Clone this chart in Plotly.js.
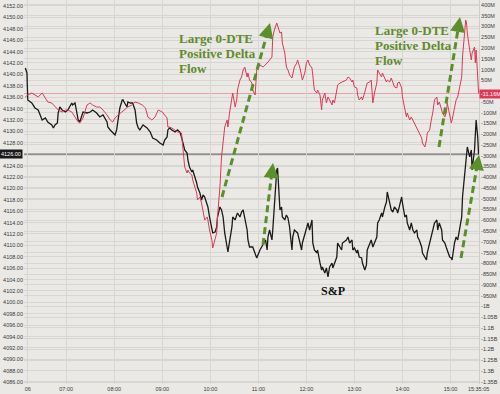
<!DOCTYPE html>
<html><head><meta charset="utf-8">
<script src="https://cdn.plot.ly/plotly-3.0.1.min.js"></script>
<style>html,body{margin:0;padding:0;background:#ebe9e5}#chart{width:500px;height:394px}</style>
</head><body><div id="chart"></div>
<script>
// time = minutes since midnight
const SP_TIME = [369,371,372,377,381,385,390,394,397,402,404,406,409,410,412,415,419,422,427,428,431,433,435,437,441,446,450,453,458,462,466,471,472,475,478,481,483,485,487,490,491,493,496,497,500,503,506,508,510,512,
516,521,525,528,533,537,541,543,546,547,549,552,556,559,562,564,566,568,571,572,574,577,578,581,583,584,587,589,591,593,596,597,599,602,603,606,608,609,612,614,616,618,621,622,624,627,628,631,633,634,637,639,641,643,646,647,649,653,658,662,666,669,671,672,674,677,678,680,683,684,685,687,689,690,693,695,697,699,702,703,705,709,712,714,715,720,722,724,727,728,730,733,734,737,739,740,743,745,747,749,752,753,755,758,759,762,764,765,770,772,774,777,778,780,783,784,786,789,790,793,795,796,799,801,803,805,808,809,811,814,815,818,820,821,824,826,828,830,833,834,836,839,840,843,845,846,849,851,853,855,858,859,861,864,865,868,870,871,874,876,878,880,883,884,886,889,890,893,895,896,899,901,902,905,907,909,911,914,915,917,920,921,924,926,927,930,932,934,935.08];
const SP_VALUE = [4141.12,4140.25,4135.51,4134.98,4134.11,4133.75,4132.00,4132.35,4131.65,4131.12,4130.60,4131.12,4131.47,4133.23,4134.28,4133.75,4133.40,4133.75,4134.98,4134.63,4134.98,4133.75,4132.00,4131.65,4133.40,4133.23,4133.40,4133.75,4133.23,4132.53,4132.88,4131.65,4130.77,4130.25,4129.89,4129.37,4130.25,4132.00,4134.11,4135.51,4135.51,4134.98,4134.28,4135.16,4134.98,4134.98,4133.75,4131.47,4130.60,4130.25,
4131.12,4130.60,4129.89,4128.84,4128.49,4127.96,4127.61,4128.49,4129.02,4130.25,4130.60,4130.25,4129.89,4130.25,4129.89,4129.02,4127.96,4126.74,4126.21,4124.98,4123.75,4122.88,4123.23,4122.00,4120.95,4120.25,4119.19,4117.96,4118.84,4118.49,4117.44,4116.74,4114.98,4113.23,4112.18,4112.35,4113.23,4114.98,4116.74,4116.21,4114.98,4112.18,4109.72,4108.84,4110.60,4113.23,4114.98,4114.46,4115.33,4115.68,4114.98,4115.86,4116.21,4114.98,4112.70,4110.95,4109.72,4109.72,4107.79,4109.19,4110.07,4110.95,4109.19,4111.47,4112.70,4110.95,4112.70,4117.44,4123.23,4123.58,4120.95,4116.21,4116.74,4114.98,4114.46,4115.33,4114.81,4113.23,4109.19,4111.47,4112.70,4112.18,4110.42,4109.19,4110.42,4113.23,4113.93,4112.70,4114.46,4110.42,4109.19,4108.67,4109.19,4106.91,4105.68,4106.21,4105.16,4106.04,4104.46,4106.21,4106.91,4106.04,4106.91,4107.96,4110.42,4109.72,4109.19,4110.42,4110.95,4111.47,4110.42,4110.95,4109.19,4109.54,4108.67,4109.19,4107.96,4107.79,4106.91,4105.68,4106.56,4109.19,4110.42,4110.95,4109.72,4110.42,4111.47,4113.93,4114.46,4115.68,4114.98,4116.74,4117.61,4119.37,4117.44,4116.21,4115.86,4116.74,4116.21,4115.68,4116.74,4118.49,4117.44,4114.98,4115.33,4113.93,4112.70,4113.93,4112.70,4112.18,4112.70,4111.47,4110.95,4109.72,4108.67,4107.79,4107.44,4108.67,4110.42,4111.47,4112.70,4113.93,4114.46,4112.70,4113.93,4112.70,4110.95,4110.42,4109.54,4109.19,4107.96,4107.79,4107.44,4110.42,4111.47,4110.95,4112.70,4114.98,4118.49,4121.47,4126.74,4127.26,4125.51,4126.74,4123.23,4126.74,4132.00,4129.02,4126.00];

const FLOW_TIME = [369,372,377,381,385,390,394,397,402,406,410,415,419,422,427,431,435,437,441,446,450,453,458,462,466,471,475,478,481,485,490,493,497,502,506,510,515,519,522,527,531,535,540,543,546,547,549,552,556,559,564,566,568,571,572,574,577,578,581,583,584,587,589,591,593,596,597,599,602,603,606,608,609,612,614,616,618,621,622,624,627,628,631,633,634,637,639,641,643,646,647,649,652,653,656,658,662,666,671,674,677,678,680,683,684,687,689,690,693,695,697,699,702,703,705,708,709,712,714,715,718,720,722,724,727,728,730,733,734,737,739,740,743,745,747,749,752,753,755,758,759,762,765,770,772,774,777,778,780,783,784,786,789,790,793,795,796,799,801,803,805,808,809,811,814,815,818,820,821,824,826,828,830,833,834,836,839,840,843,845,846,849,851,853,855,858,859,861,864,865,868,870,871,874,876,878,880,883,884,886,889,890,893,895,896,899,901,902,905,907,909,911,914,915,917,919,920,921,924,926,927,930,931,932,934,935.08];
// cumulative 0-DTE delta flow, $ millions
const FLOW_VALUE = [-27.3,-18.1,-8.8,-18.1,-27.3,-8.8,-32.0,-50.6,-55.2,-73.8,-87.7,-97.0,-87.7,-87.7,-97.0,-120.2,-143.5,-148.1,-124.9,-64.5,-55.2,-64.5,-73.8,-73.8,-87.7,-111.0,-134.2,-143.5,-124.9,-111.0,-97.0,-87.7,-73.8,-64.5,-50.6,-55.2,-64.5,-78.4,-120.2,-134.2,-120.2,-87.7,-97.0,-111.0,-124.9,-166.7,-166.7,-171.3,-180.6,-189.9,-194.6,-259.6,-352.5,-380.4,-366.4,-380.4,-389.7,-412.9,-445.4,-473.3,-505.8,-491.8,-519.7,-566.2,-598.7,-584.7,-598.7,-645.1,-691.6,-728.7,-691.6,-659.1,-584.7,-445.4,-306.0,-241.0,-166.7,-134.2,-166.7,-101.7,-27.3,-8.8,-73.8,-41.3,5.2,51.6,65.6,98.1,112.0,65.6,84.1,51.6,37.7,5.2,-18.1,98.1,121.3,112.0,130.6,144.5,158.5,251.4,283.9,316.4,307.1,269.9,274.6,223.5,177.0,112.0,98.1,74.9,60.9,84.1,112.0,130.6,144.5,107.4,74.9,51.6,84.1,130.6,144.5,121.3,107.4,65.6,5.2,-8.8,5.2,-18.1,-87.7,-41.3,-8.8,-55.2,-27.3,-41.3,-64.5,-41.3,-55.2,5.2,28.4,37.7,42.3,51.6,65.6,60.9,42.3,51.6,19.1,14.5,-18.1,-41.3,-27.3,-41.3,-4.1,19.1,37.7,42.3,51.6,-55.2,-8.8,37.7,98.1,84.1,65.6,84.1,60.9,42.3,51.6,42.3,60.9,37.7,19.1,14.5,37.7,42.3,14.5,-27.3,-87.7,-120.2,-101.7,-134.2,-120.2,-134.2,-148.1,-166.7,-180.6,-194.6,-217.8,-241.0,-259.6,-227.1,-194.6,-180.6,-134.2,-97.0,-41.3,-27.3,-64.5,-50.6,-87.7,-101.7,-120.2,-97.0,-55.2,-120.2,-148.1,-134.2,-73.8,-41.3,-27.3,5.2,65.6,158.5,251.4,330.3,316.4,269.9,190.9,144.5,177.0,204.9,130.6,190.9,65.6,-11.16];

const X_TICK_VALS = [372,420,480,540,600,660,720,780,840,900,935.08];
const X_TICK_TEXT = ['06','07:00','08:00','09:00','10:00','11:00','12:00','13:00','14:00','15:00','15:35:05'];
const SP_LABEL = 'S&P';
const FLOW_LABEL_LINES = ['Large 0-DTE','Positive Delta','Flow'];

const BG = '#ebe9e5', GRID = '#d8d6d2';
const GREEN = '#5b8f2b', TEXTGREEN = '#628a2e';
const RED = '#dc3a55';

const lastSP = SP_VALUE[SP_VALUE.length - 1];
const lastFlow = FLOW_VALUE[FLOW_VALUE.length - 1];

// left axis ticks every 2 points; the one under the last-value box is left to the box
const yVals = [], yText = [];
for (let v = 4086; v <= 4152; v += 2) {
  if (Math.abs(v - lastSP) < 1.2) continue;
  yVals.push(v); yText.push(v.toFixed(2));
}
// right axis ticks (millions) with M / B suffix
const y2Vals = [], y2Text = [];
for (let v = -1350; v <= 400; v += 50) {
  if (Math.abs(v - lastFlow) < 25) continue;
  y2Vals.push(v);
  y2Text.push(Math.abs(v) >= 1000 ? (v / 1000) + 'B' : v + 'M');
}

const L = 24, R = 21, T = 0, B = 10, W = 500, H = 394;
const PW = W - L - R, PH = H - T - B;
const px = x => (x - L) / PW, py = y => 1 - (y - T) / PH;

const annotations = [];
const shapes = [];
const tickFont = {family: 'Liberation Sans, Arial, sans-serif', size: 5.5, color: '#3a3a3a'};

// flow text blocks
[[177, 38], [373, 30]].forEach(([x0, y0]) => {
  FLOW_LABEL_LINES.forEach((t, i) => {
    annotations.push({xref: 'paper', yref: 'paper', x: px(x0), y: py(y0 + i * 15), xanchor: 'left', yanchor: 'middle',
      text: '<b>' + t + '</b>', showarrow: false,
      font: {family: 'Liberation Serif, Times New Roman, serif', size: 13, color: TEXTGREEN}});
  });
});
annotations.push({xref: 'paper', yref: 'paper', x: px(333), y: py(291), xanchor: 'center', yanchor: 'middle',
  text: '<b>' + SP_LABEL.replace('&', '&amp;') + '</b>', showarrow: false,
  font: {family: 'Liberation Serif, Times New Roman, serif', size: 12, color: '#111'}});

// dashed arrows (decoration, image pixel coords)
const ARROWS = [[222, 197, 270, 23], [263, 245, 273, 163], [439, 147, 460, 17], [461, 258, 479, 155]];
ARROWS.forEach(([x0, y0, x1, y1]) => {
  const dx = x1 - x0, dy = y1 - y0, len = Math.hypot(dx, dy), ux = dx / len, uy = dy / len;
  shapes.push({type: 'line', xref: 'paper', yref: 'paper', x0: px(x0), y0: py(y0), x1: px(x1 - ux * 6), y1: py(y1 - uy * 6),
    line: {color: GREEN, width: 3, dash: '7px,4px'}, layer: 'above'});
  annotations.push({xref: 'paper', yref: 'paper', x: px(x1), y: py(y1), ax: -ux * 10, ay: -uy * 10, text: '',
    showarrow: true, arrowhead: 2, arrowsize: 1, arrowwidth: 3, arrowcolor: GREEN});
});

shapes.push({type: 'line', xref: 'paper', x0: 0, x1: 1, yref: 'y', y0: lastSP, y1: lastSP, line: {color: '#707070', width: 1.2}, layer: 'below'});
shapes.push({type: 'line', xref: 'paper', x0: 0, x1: 1, yref: 'y2', y0: lastFlow, y1: lastFlow, line: {color: '#e6a2ac', width: 1}, layer: 'below'});
annotations.push({xref: 'paper', yref: 'y', x: 0, y: lastSP, xanchor: 'right', xshift: -1, text: lastSP.toFixed(2), showarrow: false,
  bgcolor: '#1a1a1a', borderpad: 1, font: {family: tickFont.family, size: 5.5, color: '#fff'}});
annotations.push({xref: 'paper', yref: 'y2', x: 1, y: lastFlow, xanchor: 'left', xshift: 0, text: lastFlow.toFixed(2) + 'M', showarrow: false,
  bgcolor: RED, borderpad: 1, font: {family: tickFont.family, size: 5.5, color: '#fff'}});

const data = [
  {x: SP_TIME, y: SP_VALUE, type: 'scatter', mode: 'lines', line: {color: '#1b1b1b', width: 1.3}, yaxis: 'y', name: 'S&P'},
  {x: FLOW_TIME, y: FLOW_VALUE, type: 'scatter', mode: 'lines', line: {color: RED, width: 1}, yaxis: 'y2', name: '0-DTE Delta'}
];

const layout = {
  width: W, height: H, showlegend: false,
  paper_bgcolor: BG, plot_bgcolor: BG,
  margin: {l: L, r: R, t: T, b: B, pad: 0},
  xaxis: {range: [367.3, 935.6], tickmode: 'array', tickvals: X_TICK_VALS, ticktext: X_TICK_TEXT,
    showgrid: true, gridcolor: GRID, gridwidth: 1, zeroline: false, ticks: '', tickfont: tickFont, showline: false},
  yaxis: {range: [4085.68, 4153.05], tickmode: 'array', tickvals: yVals, ticktext: yText, showgrid: true, gridcolor: GRID,
    zeroline: false, ticks: '', tickfont: tickFont, side: 'left'},
  yaxis2: {range: [-1360.5, 423.2], overlaying: 'y', side: 'right', tickmode: 'array', tickvals: y2Vals, ticktext: y2Text,
    showgrid: true, gridcolor: GRID, zeroline: false, ticks: '', tickfont: tickFont, showline: true, linecolor: '#cfcdc9'},
  shapes: shapes, annotations: annotations
};

Plotly.newPlot('chart', data, layout, {displayModeBar: false, staticPlot: true});
</script></body></html>
